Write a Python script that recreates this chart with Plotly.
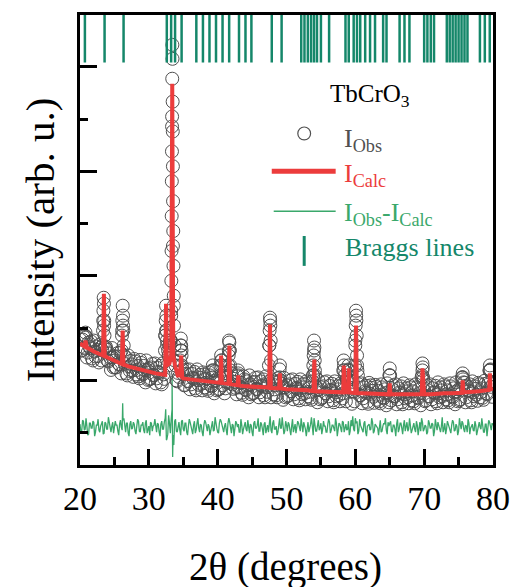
import numpy as np
import plotly.graph_objects as go

# ---------------- data (intensity in arbitrary units) ----------------
grid_two_theta = np.round(np.arange(20.0, 80.001, 0.25), 3)
mid_two_theta = np.round(np.arange(20.125, 80.0, 0.25), 3)

obs_grid = [
    1260, 1150, 1290, 1170,   # 20
    1080, 1230, 1170, 1070,   # 21
    1250, 1090, 1155, 1030,   # 22
    1180, 1150, 1400, 1190,   # 23
    1050, 1120, 955, 1080,    # 24
    1090, 980, 1125, 1010,    # 25
    920, 1400, 1015, 920,     # 26
    1100, 945, 1010, 885,     # 27
    1040, 955, 890, 1055,     # 28
    920, 995, 830, 955,       # 29
    970, 870, 1015, 900,      # 30
    820, 975, 925, 830,       # 31
    1020, 865, 1350, 1000,    # 32
    1200, 1500, 2200, 1050,   # 33
    850, 925, 1000, 1150,     # 34
    910, 805, 955, 840,       # 35
    760, 915, 865, 770,       # 36
    960, 805, 875, 750,       # 37
    910, 825, 765, 930,       # 38
    800, 880, 720, 850,       # 39
    870, 765, 1050, 800,      # 40
    720, 875, 825, 1150,      # 41
    920, 765, 835, 710,       # 42
    900, 785, 725, 890,       # 43
    760, 840, 680, 810,       # 44
    830, 725, 875, 760,       # 45
    680, 840, 790, 700,       # 46
    890, 735, 1200, 680,      # 47
    840, 760, 700, 870,       # 48
    880, 815, 655, 780,       # 49
    800, 700, 850, 740,       # 50
    660, 815, 765, 670,       # 51
    860, 710, 780, 660,       # 52
    820, 735, 675, 840,       # 53
    1150, 790, 630, 760,      # 54
    780, 680, 830, 720,       # 55
    640, 795, 745, 650,       # 56
    840, 690, 760, 640,       # 57
    800, 720, 900, 860,       # 58
    950, 775, 615, 740,       # 59
    1250, 1000, 810, 700,     # 60
    620, 780, 725, 635,       # 61
    825, 800, 745, 625,       # 62
    785, 705, 640, 810,       # 63
    680, 760, 600, 730,       # 64
    900, 650, 800, 690,       # 65
    610, 770, 720, 630,       # 66
    820, 670, 740, 620,       # 67
    780, 700, 640, 810,       # 68
    680, 760, 600, 950,       # 69
    750, 650, 800, 690,       # 70
    610, 770, 725, 640,       # 71
    830, 680, 750, 630,       # 72
    790, 710, 650, 820,       # 73
    690, 770, 610, 740,       # 74
    760, 660, 880, 830,       # 75
    630, 790, 740, 650,       # 76
    840, 690, 765, 645,       # 77
    810, 730, 675, 845,       # 78
    720, 805, 950, 785,       # 79
    810,                      # 80
]

obs_mid = [
    1150, 1260, 1180, 1290,   # 20.125..
    1130, 1190, 1240, 1050,   # 21
    1140, 1190, 1095, 1210,   # 22
    1050, 1450, 1180, 1160,   # 23
    1040, 1080, 1175, 980,    # 24
    980, 1090, 1015, 1130,    # 25
    1350, 1100, 1085, 900,    # 26
    990, 1045, 950, 1065,     # 27
    910, 995, 870, 1025,      # 28
    910, 955, 1050, 855,      # 29
    860, 980, 905, 1020,      # 30
    870, 935, 995, 810,       # 31
    910, 1300, 1250, 1100,    # 32
    1250, 3400, 1600, 1000,   # 33
    840, 885, 1200, 960,      # 34
    800, 915, 845, 960,       # 35
    810, 875, 935, 750,       # 36
    850, 905, 815, 930,       # 37
    780, 865, 745, 900,       # 38
    790, 840, 940, 750,       # 39
    760, 875, 1000, 920,      # 40
    770, 835, 1150, 950,      # 41
    810, 865, 775, 890,       # 42
    780, 825, 705, 860,       # 43
    750, 800, 900, 710,       # 44
    720, 835, 765, 880,       # 45
    730, 800, 860, 680,       # 46
    780, 835, 1450, 860,      # 47
    710, 800, 680, 840,       # 48
    850, 775, 875, 680,       # 49
    690, 810, 740, 860,       # 50
    710, 775, 835, 650,       # 51
    750, 810, 720, 840,       # 52
    690, 775, 655, 900,       # 53
    950, 750, 850, 660,       # 54
    670, 790, 720, 840,       # 55
    690, 755, 815, 630,       # 56
    730, 790, 700, 820,       # 57
    670, 950, 640, 850,       # 58
    880, 735, 835, 640,       # 59
    1500, 900, 700, 820,      # 60
    670, 740, 795, 615,       # 61
    715, 775, 685, 805,       # 62
    655, 745, 620, 780,       # 63
    670, 720, 820, 630,       # 64
    700, 760, 690, 810,       # 65
    660, 730, 790, 610,       # 66
    710, 770, 680, 800,       # 67
    650, 740, 620, 780,       # 68
    670, 720, 880, 850,       # 69
    640, 760, 690, 810,       # 70
    660, 730, 795, 620,       # 71
    720, 780, 690, 810,       # 72
    660, 750, 630, 790,       # 73
    680, 730, 830, 640,       # 74
    650, 770, 880, 825,       # 75
    680, 750, 810, 630,       # 76
    730, 790, 705, 825,       # 77
    680, 770, 655, 815,       # 78
    710, 830, 960, 685,       # 79
]

peak_two_theta = [
    20.7, 20.8, 20.9,
    23.30, 23.35, 23.40, 23.44, 23.48, 23.52, 23.56, 23.62,
    26.05, 26.10, 26.15, 26.20, 26.25, 26.30, 26.35,
    32.35, 32.40, 32.45, 32.50, 32.55, 32.60, 32.65, 32.80, 32.90, 33.00, 33.10,
    33.20, 33.24, 33.27, 33.30, 33.32, 33.34, 33.36, 33.38, 33.40, 33.42,
    33.44, 33.46, 33.48, 33.50, 33.52, 33.55, 33.58, 33.62, 33.66, 33.72,
    34.55, 34.60, 34.65, 34.70, 34.75, 34.80,
    39.20, 39.30, 39.40,
    40.40, 40.50, 40.60,
    41.55, 41.60, 41.65, 41.70, 41.75, 41.80,
    42.95, 43.00,
    47.45, 47.50, 47.55, 47.60, 47.65, 47.70, 47.75,
    49.00, 49.05,
    53.85, 53.90, 53.95, 54.00, 54.05, 54.10, 54.15,
    58.25, 58.30, 58.35, 58.95, 59.00, 59.05,
    59.95, 60.00, 60.05, 60.10, 60.15, 60.20, 60.25, 60.30,
    64.95, 65.00, 65.05,
    69.70, 69.75, 69.80, 69.85,
    75.55, 75.60, 75.65,
    79.50, 79.55, 79.60,
]
peak_obs = [
    1300, 1330, 1280,
    1200, 1350, 1550, 1680, 1620, 1450, 1300, 1180,
    1150, 1300, 1450, 1600, 1500, 1350, 1200,
    1150, 1300, 1450, 1600, 1500, 1350, 1200, 1150, 1100, 1200, 1250,
    1250, 1550, 1850, 2150, 2500, 2850, 3150, 3500, 3880, 4220,
    4080, 3650, 3350, 3000, 2650, 2350, 2000, 1700, 1400, 1200,
    1050, 1150, 1270, 1200, 1100, 1000,
    950, 1000, 950,
    1000, 1100, 1050,
    1000, 1100, 1250, 1230, 1150, 1000,
    950, 920,
    1000, 1200, 1350, 1480, 1400, 1250, 1050,
    960, 1000,
    900, 1000, 1100, 1250, 1180, 1050, 900,
    950, 1050, 1000, 950, 1000, 960,
    1000, 1200, 1400, 1550, 1450, 1300, 1100, 950,
    900, 970, 900,
    900, 1020, 980, 880,
    880, 920, 860,
    950, 1000, 950,
]

calc_two_theta = [
    20.0, 20.68, 20.8, 20.92, 21.0, 22.0, 23.0, 23.35, 23.47, 23.59, 24.0, 25.0,
    26.0, 26.08, 26.2, 26.32, 27.0, 28.0, 29.0, 30.0, 31.0, 32.0, 32.38, 32.5,
    32.62, 33.0, 33.25, 33.4, 33.55, 33.8, 34.2, 34.5, 34.7, 34.85, 35.0, 36.0,
    37.0, 38.0, 39.0, 40.0, 40.4, 40.5, 40.6, 41.0, 41.58, 41.7, 41.82, 42.0,
    42.88, 43.0, 43.1, 44.0, 45.0, 46.0, 47.0, 47.48, 47.6, 47.72, 48.0, 48.92,
    49.04, 49.16, 50.0, 51.0, 52.0, 53.0, 53.92, 54.04, 54.16, 55.0, 56.0, 57.0,
    58.0, 58.22, 58.33, 58.44, 58.95, 59.05, 59.15, 59.98, 60.1, 60.22, 61.0,
    62.0, 63.0, 64.0, 64.9, 65.0, 65.1, 66.0, 67.0, 68.0, 69.0, 69.64, 69.76,
    69.88, 70.0, 71.0, 72.0, 73.0, 74.0, 75.0, 75.5, 75.6, 75.7, 76.0, 77.0,
    78.0, 79.0, 79.45, 79.55, 79.65, 80.0,
]
calc_intensity = [
    1220, 1190, 1250, 1180, 1180, 1140, 1110, 1100, 1720, 1095, 1080, 1050,
    1020, 1015, 1350, 1010, 990, 970, 950, 930, 920, 910, 905, 1620,
    1000, 1020, 1100, 3830, 1100, 1000, 900, 900, 1100, 880, 870, 860,
    850, 840, 830, 830, 825, 1100, 825, 820, 815, 1200, 812, 810,
    802, 900, 800, 790, 790, 780, 780, 776, 1410, 772, 770, 770,
    920, 768, 760, 760, 750, 750, 742, 1060, 740, 740, 740, 730,
    730, 730, 1000, 730, 730, 970, 728, 722, 1400, 720, 720,
    715, 715, 710, 710, 820, 710, 710, 710, 710, 710, 710, 970,
    710, 710, 710, 720, 720, 720, 720, 725, 850, 728, 730, 730,
    740, 750, 757, 920, 760, 770,
]

diff_grid = [
    410, 340, 440, 360, 390, 310, 420, 370, 430, 330, 400, 350,   # 20-22.75
    390, 440, 320, 420, 360, 410, 330, 430, 370, 400, 340, 410,   # 23-25.75
    380, 450, 350, 420, 320, 410, 360, 430, 340, 390, 440, 330,   # 26-28.75
    400, 350, 420, 320, 390, 430, 340, 400, 370, 420, 330, 410,   # 29-31.75
    360, 430, 470, 310, 420, 460, 290, 440, 340, 410, 350, 440,   # 32-34.75
    360, 420, 330, 390, 430, 350, 400, 320, 420, 370, 410, 330,   # 35-37.75
    400, 430, 340, 390, 360, 440, 350, 400, 330, 420, 440, 340,   # 38-40.75
    390, 350, 420, 430, 320, 400, 370, 420, 410, 330, 400, 360,   # 41-43.75
    430, 340, 390, 410, 330, 420, 370, 400, 340, 430, 360, 410,   # 44-46.75
    320, 400, 450, 350, 420, 360, 390, 330, 470, 370, 410, 340,   # 47-49.75
    400, 430, 350, 390, 330, 410, 370, 420, 340, 400, 430, 360,   # 50-52.75
    390, 330, 410, 370, 470, 340, 400, 350, 420, 360, 390, 330,   # 53-55.75
    410, 430, 350, 400, 340, 420, 370, 410, 330, 430, 400, 350,   # 56-58.75
    440, 340, 390, 360, 470, 440, 340, 400, 350, 420, 330, 390,   # 59-61.75
    410, 360, 430, 340, 400, 370, 420, 330, 390, 410, 350, 430,   # 62-64.75
    420, 340, 400, 360, 410, 330, 420, 370, 400, 340, 430, 360,   # 65-67.75
    390, 350, 420, 330, 400, 410, 340, 430, 360, 390, 330, 420,   # 68-70.75
    370, 410, 340, 400, 430, 350, 390, 330, 420, 360, 410, 340,   # 71-73.75
    400, 430, 350, 390, 340, 410, 440, 360, 400, 330, 420, 370,   # 74-76.75
    410, 340, 400, 350, 430, 360, 390, 330, 410, 370, 430, 350,   # 77-79.75
    400,                                                          # 80
]
diff_mid = [
    320, 450, 350, 470, 300, 420, 370, 440, 290, 400, 460, 330,   # 20.125-22.875
    410, 310, 430, 360, 480, 340, 390, 320, 440, 400, 300, 450,   # 23..
    350, 470, 330, 420, 290, 440, 370, 410, 310, 460, 340, 400,   # 26..
    430, 320, 450, 360, 300, 420, 390, 460, 330, 410, 290, 440,   # 29..
    360, 470, 260, 500, 320, 560, 200, 460, 330, 430, 300, 450,   # 32..
    340, 420, 300, 460, 380, 310, 440, 350, 470, 330, 400, 290,   # 35..
    450, 360, 410, 300, 430, 340, 480, 370, 320, 460, 390, 330,   # 38..
    420, 300, 470, 350, 410, 290, 440, 380, 330, 460, 310, 420,   # 41..
    360, 450, 320, 400, 290, 440, 370, 470, 340, 410, 300, 430,   # 44..
    380, 330, 490, 320, 450, 360, 300, 420, 370, 480, 310, 440,   # 47..
    340, 410, 300, 460, 380, 320, 440, 350, 470, 330, 400, 290,   # 50..
    430, 360, 480, 300, 410, 340, 450, 370, 310, 440, 390, 330,   # 53..
    460, 320, 400, 350, 470, 290, 420, 380, 440, 330, 410, 360,   # 56..
    300, 450, 490, 340, 420, 310, 460, 370, 330, 440, 290, 400,   # 59..
    350, 470, 320, 410, 380, 300, 450, 340, 420, 470, 310, 390,   # 62..
    440, 330, 400, 290, 460, 360, 420, 310, 450, 380, 340, 470,   # 65..
    320, 410, 360, 440, 300, 430, 470, 340, 400, 310, 450, 370,   # 68..
    420, 290, 460, 350, 400, 330, 480, 360, 310, 440, 380, 320,   # 71..
    450, 340, 410, 300, 470, 360, 420, 330, 390, 460, 310, 400,   # 74..
    350, 440, 300, 420, 380, 470, 330, 410, 290, 450, 360, 420,   # 77..
]
diff_extra_two_theta = [26.2, 32.45, 32.55, 33.38, 33.42, 33.46, 33.52]
diff_extra = [620, 560, 250, 880, 150, 80, 300]

bragg_positions = [
    20.71, 23.57, 26.33, 32.61, 33.24, 33.81, 34.76, 36.9, 37.86, 38.81, 39.76,
    40.71, 41.67, 43.1, 44.04, 44.9, 47.86, 49.29, 52.14, 52.61, 53.1, 53.57,
    54.0, 54.43, 55.0, 56.19, 58.57, 59.04, 59.76, 60.24, 60.71, 61.43, 62.14,
    62.86, 64.04, 64.53, 66.43, 67.14, 67.86, 70.0, 70.47, 70.96, 71.43, 73.29,
    73.71, 74.14, 74.57, 75.0, 75.43, 75.86, 76.29, 78.1, 78.81, 79.53,
]
bragg_level = 4310

x_tick_values = [20, 30, 40, 50, 60, 70, 80]

# ---------------- assemble ----------------
obs_x = list(grid_two_theta) + list(mid_two_theta) + peak_two_theta
obs_y = obs_grid + obs_mid + peak_obs

dpairs = sorted(zip(list(grid_two_theta) + list(mid_two_theta) + diff_extra_two_theta,
                    diff_grid + diff_mid + diff_extra))
diff_x = [p[0] for p in dpairs]
diff_y = [p[1] for p in dpairs]

FONT = "Liberation Serif"
C_OBS = "#505050"
C_CALC = "#ec3c3c"
C_DIFF = "#3aa86b"
C_BRAGG = "#15876a"

# plot area in page pixels
PL, PR, PT, PB = 80, 500, 13, 465


def px_x(p):
    return (p - PL) / (PR - PL)


def px_y(p):
    return (PB - p) / (PB - PT)


fig = go.Figure()
fig.add_trace(go.Scatter(x=diff_x, y=diff_y, mode="lines",
                         line=dict(color=C_DIFF, width=1.3), showlegend=False))
fig.add_trace(go.Scatter(x=obs_x, y=obs_y, mode="markers",
                         marker=dict(symbol="circle-open", size=13,
                                     color=C_OBS, line=dict(width=1, color=C_OBS)),
                         showlegend=False))
fig.add_trace(go.Scatter(x=calc_two_theta, y=calc_intensity, mode="lines",
                         line=dict(color=C_CALC, width=4), showlegend=False))
fig.add_trace(go.Scatter(x=bragg_positions, y=[bragg_level] * len(bragg_positions),
                         mode="markers",
                         marker=dict(symbol="line-ns", size=38,
                                     line=dict(color=C_BRAGG, width=2.5)),
                         showlegend=False))

# manual legend
shapes = [
    dict(type="circle", xref="paper", yref="paper",
         x0=px_x(301.5), x1=px_x(314.5), y0=px_y(138.5), y1=px_y(125.5),
         line=dict(color=C_OBS, width=1.2)),
    dict(type="line", xref="paper", yref="paper",
         x0=px_x(275), x1=px_x(340), y0=px_y(170), y1=px_y(170),
         line=dict(color=C_CALC, width=5)),
    dict(type="line", xref="paper", yref="paper",
         x0=px_x(277), x1=px_x(340), y0=px_y(210), y1=px_y(210),
         line=dict(color=C_DIFF, width=1.5)),
    dict(type="line", xref="paper", yref="paper",
         x0=px_x(308), x1=px_x(308), y0=px_y(235), y1=px_y(265),
         line=dict(color=C_BRAGG, width=3)),
]

ann = [
    dict(text="2θ (degrees)", x=px_x(289), y=px_y(567), xref="paper",
         yref="paper", xanchor="center", yanchor="middle",
         showarrow=False, font=dict(family=FONT, size=39, color="black")),
]
legend_items = [
    dict(text="TbCrO<sub>3</sub>", x=px_x(332), y=px_y(94), color="black", size=25),
    dict(text="I<sub>Obs</sub>", x=px_x(346), y=px_y(139), color=C_OBS, size=26),
    dict(text="I<sub>Calc</sub>", x=px_x(346), y=px_y(174), color=C_CALC, size=26),
    dict(text="I<sub>Obs</sub>-I<sub>Calc</sub>", x=px_x(346), y=px_y(213), color=C_DIFF, size=26),
    dict(text="Braggs lines", x=px_x(347), y=px_y(247), color=C_BRAGG, size=26),
]
for a in legend_items:
    ann.append(dict(text=a["text"], x=a["x"], y=a["y"], xref="paper", yref="paper",
                    xanchor="left", yanchor="middle", showarrow=False,
                    font=dict(family=FONT, size=a["size"], color=a["color"])))

fig.update_layout(
    width=522, height=587,
    margin=dict(l=PL, r=522 - PR, t=PT, b=587 - PB),
    paper_bgcolor="white", plot_bgcolor="white",
    showlegend=False,
    font=dict(family=FONT, color="black"),
    shapes=shapes, annotations=ann,
    xaxis=dict(range=[20, 80], tickvals=x_tick_values, ticks="inside", ticklen=16,
               tickwidth=3, tickcolor="black", showline=True, linewidth=3,
               linecolor="black", mirror=True, showgrid=False, zeroline=False,
               tickfont=dict(family=FONT, size=34, color="black"),
               ticklabelstandoff=1,
               minor=dict(dtick=5, tick0=20, ticks="inside", ticklen=8,
                          tickwidth=3, tickcolor="black")),
    yaxis=dict(range=[0, 4520], tickmode="linear", tick0=850, dtick=1050,
               ticks="inside", ticklen=17, tickwidth=3, tickcolor="black",
               showticklabels=False, showline=True, linewidth=3,
               linecolor="black", mirror=True, showgrid=False, zeroline=False,
               title=dict(text="Intensity (arb. u.)", standoff=10,
                          font=dict(family=FONT, size=41, color="black")),
               minor=dict(dtick=525, tick0=850, ticks="inside", ticklen=8,
                          tickwidth=3, tickcolor="black")),
)

fig.write_html("out.html")
